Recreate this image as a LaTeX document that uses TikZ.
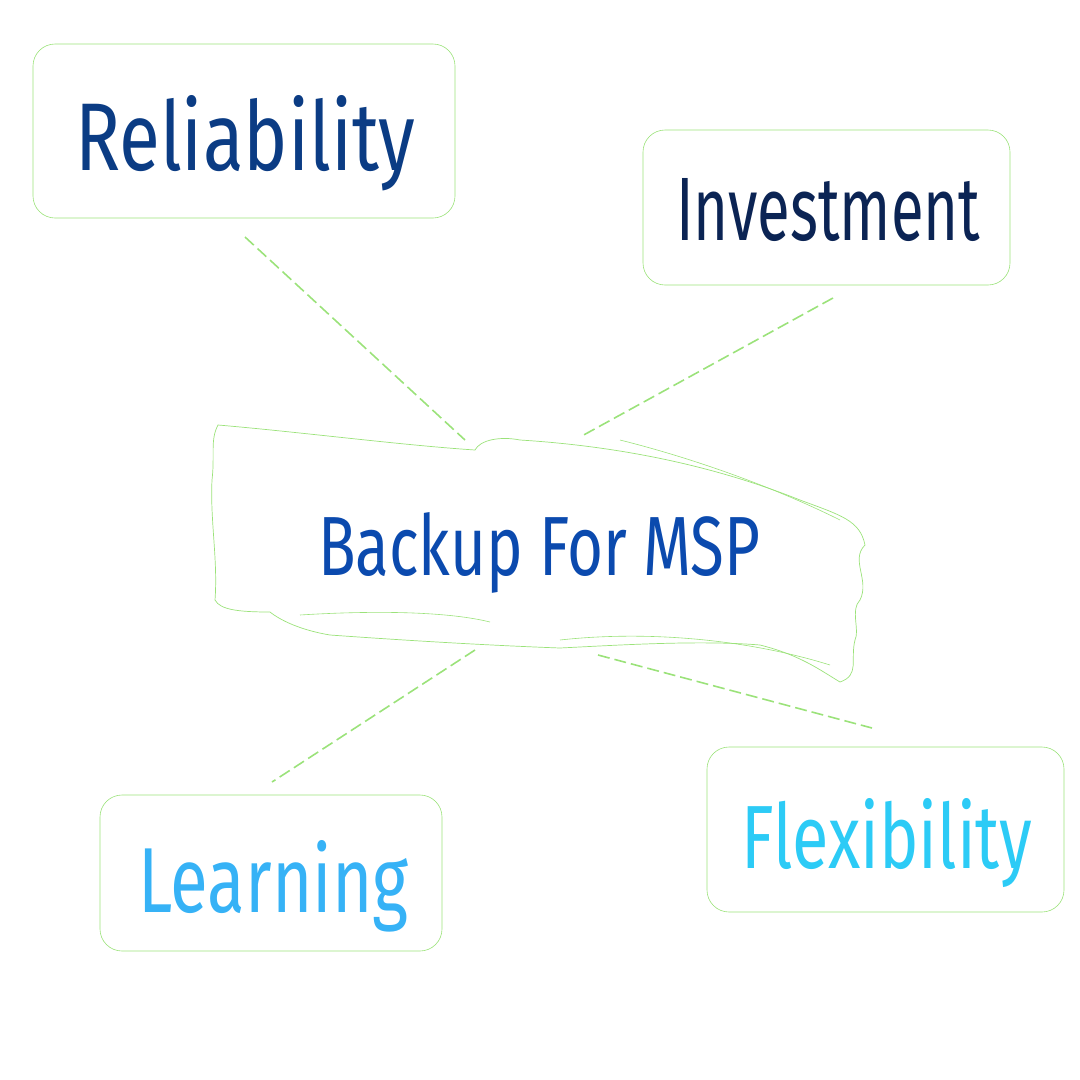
\documentclass[tikz,border=0pt]{standalone}
\usepackage{fontspec}
\setmainfont{Fira Sans}
\usepackage{graphicx}
\definecolor{gr}{HTML}{9BE27A}
\definecolor{cA}{HTML}{0B3C84}
\definecolor{cB}{HTML}{0B2454}
\definecolor{cC}{HTML}{0B4AAE}
\definecolor{cD}{HTML}{36B2F6}
\definecolor{cE}{HTML}{2CCBF6}
\tikzset{box/.style={draw=gr,line width=0.6pt,rounded corners=22pt},
 lbl/.style={anchor=base west,inner sep=0pt},
 conn/.style={draw=gr,line width=1.6pt,dash pattern=on 12pt off 5pt}}
\newcommand{\fitt}[3]{\resizebox{#1pt}{#2pt}{#3}}
\begin{document}
\begin{tikzpicture}[x=1pt,y=-1pt]
\useasboundingbox (0,0) rectangle (1080,1080);
\draw[box] (33,44) rectangle (455,218);
\draw[box] (643,130) rectangle (1010,285);
\draw[box] (100,795) rectangle (442,951);
\draw[box] (707,747) rectangle (1064,912);
\node[lbl,text=cA] (rel) at (75,170) {\fitt{340}{75}{Reliability}};
\node[lbl,text=cB] (inv) at (676,240) {\fitt{304}{62}{Investment}};
\node[lbl,text=cC] (bk) at (318,575) {\fitt{442}{63}{Backup For MSP}};
\node[lbl,text=cD] (lea) at (138,912) {\fitt{270}{72}{Learning}};
\node[lbl,text=cE] (fle) at (741,868) {\fitt{291}{70}{Flexibility}};
\coordinate (r1) at (245,237); \coordinate (r2) at (465,440);
\coordinate (i1) at (833,298); \coordinate (i2) at (580,437);
\coordinate (l1) at (475,650); \coordinate (l2) at (272,782);
\coordinate (f1) at (598,655); \coordinate (f2) at (872,728);
\draw[conn] (r1) -- (r2);
\draw[conn] (i1) -- (i2);
\draw[conn] (l1) -- (l2);
\draw[conn] (f1) -- (f2);
% brush stroke
\draw[gr,line width=0.7pt] (218,425) .. controls (300,432) and (400,445) .. (475,450)
 .. controls (480,440) and (500,436) .. (520,440) .. controls (600,445) and (700,460) .. (800,500)
 .. controls (840,515) and (860,520) .. (865,545) .. controls (850,560) and (870,580) .. (860,600)
 .. controls (850,610) and (860,630) .. (855,640) .. controls (850,660) and (860,675) .. (840,682)
 .. controls (820,670) and (800,655) .. (760,645) .. controls (700,640) and (620,645) .. (560,648)
 .. controls (480,645) and (400,640) .. (330,635) .. controls (300,630) and (280,620) .. (270,612)
 .. controls (240,612) and (220,610) .. (215,600) .. controls (218,560) and (210,520) .. (212,480)
 .. controls (215,455) and (210,440) .. (218,425) -- cycle;
\draw[gr,line width=0.6pt] (620,440) .. controls (700,460) and (780,490) .. (840,520);
\draw[gr,line width=0.6pt] (300,615) .. controls (380,610) and (450,612) .. (490,622);
\draw[gr,line width=0.6pt] (560,640) .. controls (650,630) and (750,640) .. (830,665);
\end{tikzpicture}
\end{document}
